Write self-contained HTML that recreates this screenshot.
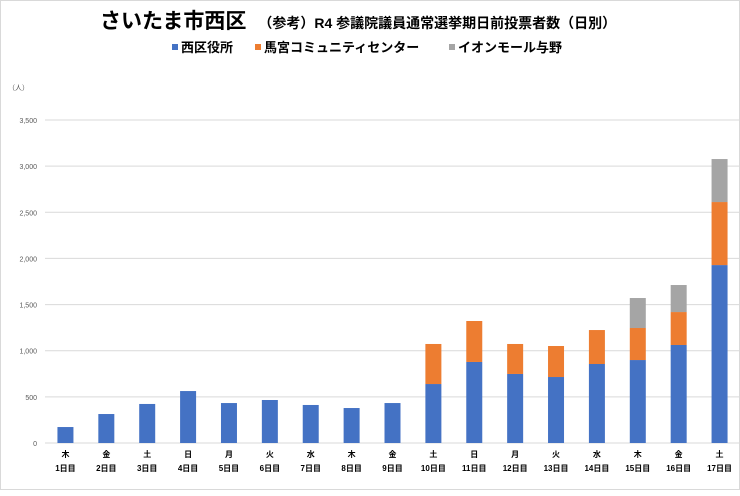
<!DOCTYPE html>
<html><head><meta charset="utf-8"><style>
body{margin:0;background:#fff;}
svg text{font-family:"Liberation Sans","Noto Sans CJK JP",sans-serif;}
</style></head><body>
<svg width="740" height="491" xmlns="http://www.w3.org/2000/svg">
<rect x="0.5" y="0.5" width="739" height="489" fill="#fff" stroke="#d9d9d9"/>
<text x="100" y="28" font-size="21" font-weight="bold">さいたま市西区<tspan font-size="14" dx="12">（参考）R4 参議院議員通常選挙期日前投票者数（日別）</tspan></text>
<g font-size="13" font-weight="bold">
<g><rect x="172" y="44" width="6" height="6" fill="#4472c4"/><text x="181" y="52">西区役所</text></g>
<g><rect x="255" y="44" width="6" height="6" fill="#ed7d31"/><text x="264" y="52">馬宮コミュニティセンター</text></g>
<g><rect x="449" y="44" width="6" height="6" fill="#a5a5a5"/><text x="458" y="52">イオンモール与野</text></g>
</g>
<text x="8" y="90" font-size="7" fill="#595959">（人）</text>
<g id="grid"></g><g id="bars"></g><g id="labels"></g>
</svg>
<script>
const days=["木","金","土","日","月","火","水","木","金","土","日","月","火","水","木","金","土"];
const dayNums=["1日目","2日目","3日目","4日目","5日目","6日目","7日目","8日目","9日目","10日目","11日目","12日目","13日目","14日目","15日目","16日目","17日目"];
const nishiku=[173,314,423,563,433,466,412,379,433,639,878,748,715,856,899,1062,1928];
const magumiya=[0,0,0,0,0,0,0,0,0,434,444,325,336,368,347,357,683];
const aeon=[0,0,0,0,0,0,0,0,0,0,0,0,0,0,325,293,466];
const yTicks=[0,500,1000,1500,2000,2500,3000,3500];
const yTickLabels=["0","500","1,000","1,500","2,000","2,500","3,000","3,500"];
const NS="http://www.w3.org/2000/svg";
const y0=443,yTop=120,yMax=3500,xL=45,xR=740;
const y=v=>y0-(v/yMax)*(y0-yTop);
const step=(xR-xL)/days.length;
const xc=i=>xL+step*(i+0.5);
function mk(t,a,p){const e=document.createElementNS(NS,t);for(const k in a)e.setAttribute(k,a[k]);p.appendChild(e);return e;}
const g=document.getElementById('grid');
yTicks.forEach((v,i)=>{
 const l=mk('line',{x1:xL,x2:xR,y1:y(v),y2:y(v),stroke:'#d9d9d9','stroke-width':1},g);
 
 
 const t=mk('text',{x:37,y:y(v)+3,'text-anchor':'end','font-size':7,fill:'#595959'},g);
 t.textContent=yTickLabels[i];
 
 
});
const b=document.getElementById('bars');
const series=[[nishiku,'#4472c4','nishiku'],[magumiya,'#ed7d31','magumiya'],[aeon,'#a5a5a5','aeon']];
days.forEach((d,i)=>{
 let base=0;
 series.forEach(([arr,c,n])=>{
  const v=arr[i]; if(!v) return;
  const r=mk('rect',{x:xc(i)-8,y:y(base+v),width:16,height:y(base)-y(base+v),fill:c},b);
  
  
  base+=v;
 });
});
const lb=document.getElementById('labels');
days.forEach((d,i)=>{
 const t=mk('text',{x:xc(i),y:457,'text-anchor':'middle','font-size':8,'font-weight':'bold'},lb);
 t.textContent=d;
 
 
 const t2=mk('text',{x:xc(i),y:471,'text-anchor':'middle','font-size':8,'font-weight':'bold'},lb);
 t2.textContent=dayNums[i];
 
 
});
</script>
</body></html>
